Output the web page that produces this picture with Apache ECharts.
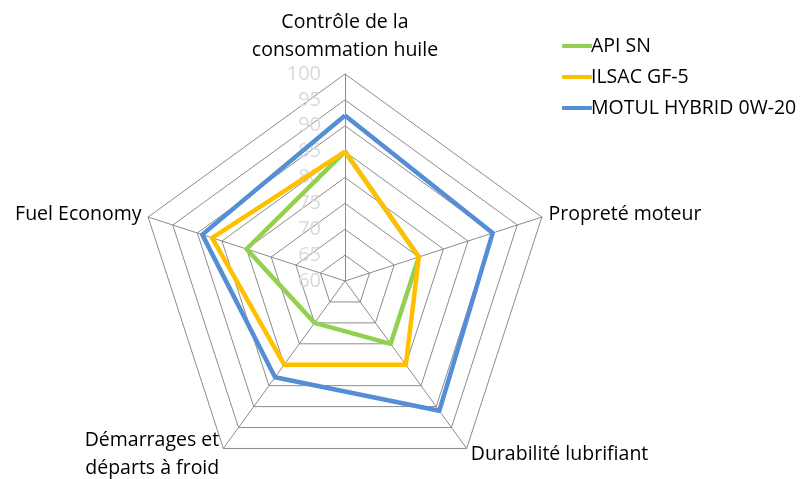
<!DOCTYPE html>
<html>
<head>
<meta charset="utf-8">
<script src="https://cdn.jsdelivr.net/npm/echarts@6/dist/echarts.min.js"></script>
<style>html,body{margin:0;padding:0;background:#fff;}#c{width:805px;height:479px;}</style>
</head>
<body>
<div id="c"></div>
<script>
// Indicators listed counter-clockwise from the top (ECharts radar order)
const indicatorNames = [
  'Contrôle de la\nconsommation huile',
  'Fuel Economy',
  'Démarrages et\ndéparts à froid',
  'Durabilité lubrifiant',
  'Propreté moteur'
];
const seriesNames = ['API SN', 'ILSAC GF-5', 'MOTUL HYBRID 0W-20'];
const apiSN = [85, 80, 70, 75, 75];
const ilsacGF5 = [85, 87, 80, 80, 75];
const motulHybrid = [92, 89, 83, 91, 90];
const axisMin = 60, axisMax = 100, axisStep = 5;

const colors = ['#92D050', '#FFC000', '#558ED5'];
const values = [apiSN, ilsacGF5, motulHybrid];
const font = 'Open Sans';

const chart = echarts.init(document.getElementById('c'), null, {renderer: 'canvas'});
chart.setOption({
  animation: false,
  backgroundColor: '#fff',
  legend: {
    orient: 'vertical',
    left: 557, top: 31,
    itemWidth: 30, itemHeight: 4, itemGap: 11,
    icon: 'roundRect',
    textStyle: {fontFamily: font, fontSize: 19.5, color: '#000', padding: [0,0,0,-6]},
    data: seriesNames
  },
  radar: {
    center: [345, 281],
    radius: 207,
    startAngle: 90,
    shape: 'polygon',
    splitNumber: (axisMax - axisMin) / axisStep,
    axisName: {color: '#000', fontFamily: font, fontSize: 19.5, lineHeight: 28},
    nameGap: 7,
    indicator: indicatorNames.map((n, i) => ({
      name: n, min: axisMin, max: axisMax,
      axisLabel: i === 0 ? {show: true, showMinLabel: true, color: '#d9d9d9', fontFamily: font, fontSize: 20, margin: 24} : undefined
    })),
    axisLabel: {show: false},
    axisLine: {lineStyle: {color: '#8c8c8c', width: 1}},
    splitLine: {lineStyle: {color: '#8c8c8c', width: 1}},
    splitArea: {show: false},
    axisTick: {show: false}
  },
  series: [{
    type: 'radar',
    symbol: 'none',
    data: seriesNames.map((n, i) => ({
      name: n, value: values[i],
      lineStyle: {color: colors[i], width: 4.5},
      itemStyle: {color: colors[i]}
    }))
  }]
});
</script>
</body>
</html>
